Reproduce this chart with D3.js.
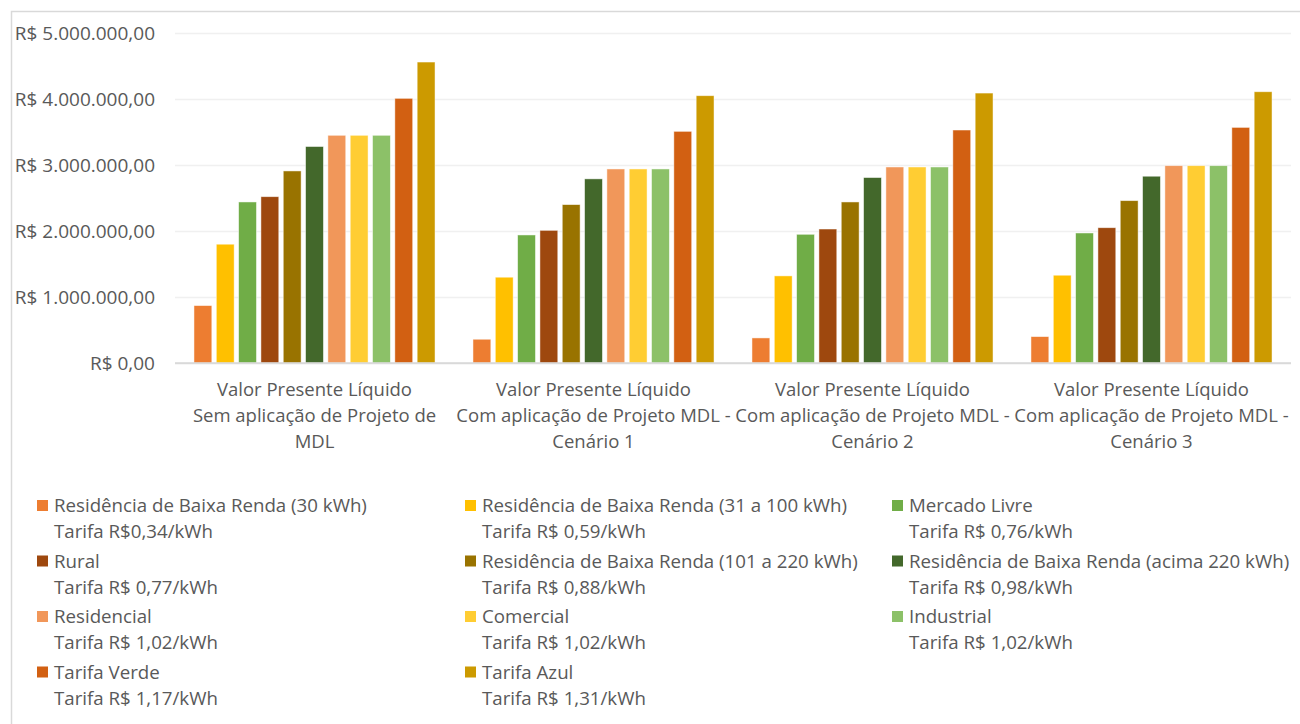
<!DOCTYPE html>
<html lang="pt-BR">
<head>
<meta charset="utf-8">
<script src="https://cdn.jsdelivr.net/npm/d3@7"></script>
<style>
  html, body { margin: 0; padding: 0; background: #ffffff; }
  svg { display: block; font-family: "Open Sans", "Noto Sans", sans-serif; }
</style>
</head>
<body>
<svg id="chart" width="1300" height="724"></svg>
<script>
// Categories (scenarios) and their wrapped axis labels
const categories = [
  "VPL Sem MDL",
  "VPL MDL Cenário 1",
  "VPL MDL Cenário 2",
  "VPL MDL Cenário 3"
];
const categoryLines = [
  ["Valor Presente Líquido", "Sem aplicação de Projeto de", "MDL"],
  ["Valor Presente Líquido", "Com aplicação de Projeto MDL -", "Cenário 1"],
  ["Valor Presente Líquido", "Com aplicação de Projeto MDL -", "Cenário 2"],
  ["Valor Presente Líquido", "Com aplicação de Projeto MDL -", "Cenário 3"]
];

// Consumer classes (series) and their tariffs
const seriesNames = [
  "Residência de Baixa Renda (30 kWh)",
  "Residência de Baixa Renda (31 a 100 kWh)",
  "Mercado Livre",
  "Rural",
  "Residência de Baixa Renda (101 a 220 kWh)",
  "Residência de Baixa Renda (acima 220 kWh)",
  "Residencial",
  "Comercial",
  "Industrial",
  "Tarifa Verde",
  "Tarifa Azul"
];
const seriesTariffs = [
  "Tarifa R$0,34/kWh",
  "Tarifa R$ 0,59/kWh",
  "Tarifa R$ 0,76/kWh",
  "Tarifa R$ 0,77/kWh",
  "Tarifa R$ 0,88/kWh",
  "Tarifa R$ 0,98/kWh",
  "Tarifa R$ 1,02/kWh",
  "Tarifa R$ 1,02/kWh",
  "Tarifa R$ 1,02/kWh",
  "Tarifa R$ 1,17/kWh",
  "Tarifa R$ 1,31/kWh"
];
const seriesColors = [
  "#ED7D31", "#FFC000", "#70AD47", "#9E480E", "#997300", "#43682B",
  "#F1975A", "#FFCD33", "#8CC168", "#D26012", "#CC9A00"
];

// Net present value (R$) per scenario, one entry per series
const npvSemMDL    = [870000, 1800000, 2440000, 2520000, 2910000, 3280000, 3450000, 3450000, 3450000, 4010000, 4560000];
const npvCenario1  = [360000, 1300000, 1940000, 2010000, 2400000, 2790000, 2940000, 2940000, 2940000, 3510000, 4050000];
const npvCenario2  = [380000, 1320000, 1950000, 2030000, 2440000, 2810000, 2970000, 2970000, 2970000, 3530000, 4090000];
const npvCenario3  = [400000, 1330000, 1970000, 2050000, 2460000, 2830000, 2990000, 2990000, 2990000, 3570000, 4110000];
const npvByCategory = [npvSemMDL, npvCenario1, npvCenario2, npvCenario3];

const yTicks = [0, 1000000, 2000000, 3000000, 4000000, 5000000];

// Brazilian currency formatting
const ptBR = d3.formatLocale({
  decimal: ",", thousands: ".", grouping: [3], currency: ["R$ ", ""]
});
const fmt = ptBR.format("$,.2f");

const svg = d3.select("#chart");
const textColor = "#595959";

// Chart frame
svg.append("rect")
  .attr("x", 11.5).attr("y", 11.5)
  .attr("width", 1310).attr("height", 730)
  .attr("fill", "#ffffff")
  .attr("stroke", "#D9D9D9").attr("stroke-width", 1.5);

const plot = { left: 175, right: 1291, top: 33, bottom: 363 };

const x0 = d3.scaleBand()
  .domain(categories)
  .range([plot.left, plot.right])
  .paddingInner(0.136)
  .paddingOuter(0.068);

const x1 = d3.scaleBand()
  .domain(d3.range(seriesNames.length))
  .range([0, x0.bandwidth()])
  .paddingInner(0.2);

const y = d3.scaleLinear()
  .domain([0, 5000000])
  .range([plot.bottom, plot.top]);

// Gridlines and value labels
const yAxis = d3.axisLeft(y)
  .tickValues(yTicks)
  .tickFormat(fmt)
  .tickSize(-(plot.right - plot.left))
  .tickPadding(20);

const gy = svg.append("g")
  .attr("transform", `translate(${plot.left},0)`)
  .call(yAxis);
gy.select(".domain").remove();
gy.selectAll(".tick line")
  .attr("stroke", d => d === 0 ? "#D9D9D9" : "#F0F0F0")
  .attr("stroke-width", 1.5);
gy.selectAll(".tick text")
  .attr("fill", textColor)
  .style("font-size", "19px")
  .style("font-family", "\"Open Sans\", sans-serif");

// Bars
const groups = svg.append("g").selectAll("g")
  .data(categories)
  .join("g")
  .attr("transform", d => `translate(${x0(d)},0)`);

groups.selectAll("rect")
  .data((d, ci) => npvByCategory[ci].map((v, si) => ({ si, v })))
  .join("rect")
  .attr("x", d => x1(d.si))
  .attr("width", x1.bandwidth())
  .attr("y", d => y(d.v))
  .attr("height", d => y(0) - y(d.v))
  .attr("fill", d => seriesColors[d.si])
  .attr("stroke", "rgba(255,255,255,0.6)")
  .attr("stroke-width", 0.8);

// Re-draw the baseline above bars
svg.append("line")
  .attr("x1", plot.left).attr("x2", plot.right)
  .attr("y1", y(0)).attr("y2", y(0))
  .attr("stroke", "#D9D9D9").attr("stroke-width", 1.5);

// Category labels
const catLabels = svg.append("g");
categories.forEach((c, ci) => {
  const cx = x0(c) + x0.bandwidth() / 2;
  const t = catLabels.append("text")
    .attr("text-anchor", "middle")
    .attr("fill", textColor)
    .style("font-size", "18.5px");
  categoryLines[ci].forEach((line, li) => {
    t.append("tspan")
      .attr("x", cx)
      .attr("y", 396 + li * 26)
      .text(line);
  });
});

// Legend: three columns, row-major order
const legendCols = [37, 465, 892];
const legendTop = 505;
const legendRowStep = 55.5;
const legend = svg.append("g");
seriesNames.forEach((name, i) => {
  const col = i % 3, row = Math.floor(i / 3);
  const lx = legendCols[col];
  const ly = legendTop + row * legendRowStep;
  legend.append("rect")
    .attr("x", lx).attr("y", ly - 5)
    .attr("width", 11).attr("height", 11)
    .attr("fill", seriesColors[i]);
  const t = legend.append("text")
    .attr("fill", textColor)
    .style("font-size", "18.7px");
  t.append("tspan").attr("x", lx + 17).attr("y", ly + 7).text(name);
  t.append("tspan").attr("x", lx + 17).attr("y", ly + 7 + 26).text(seriesTariffs[i]);
});
</script>
</body>
</html>
